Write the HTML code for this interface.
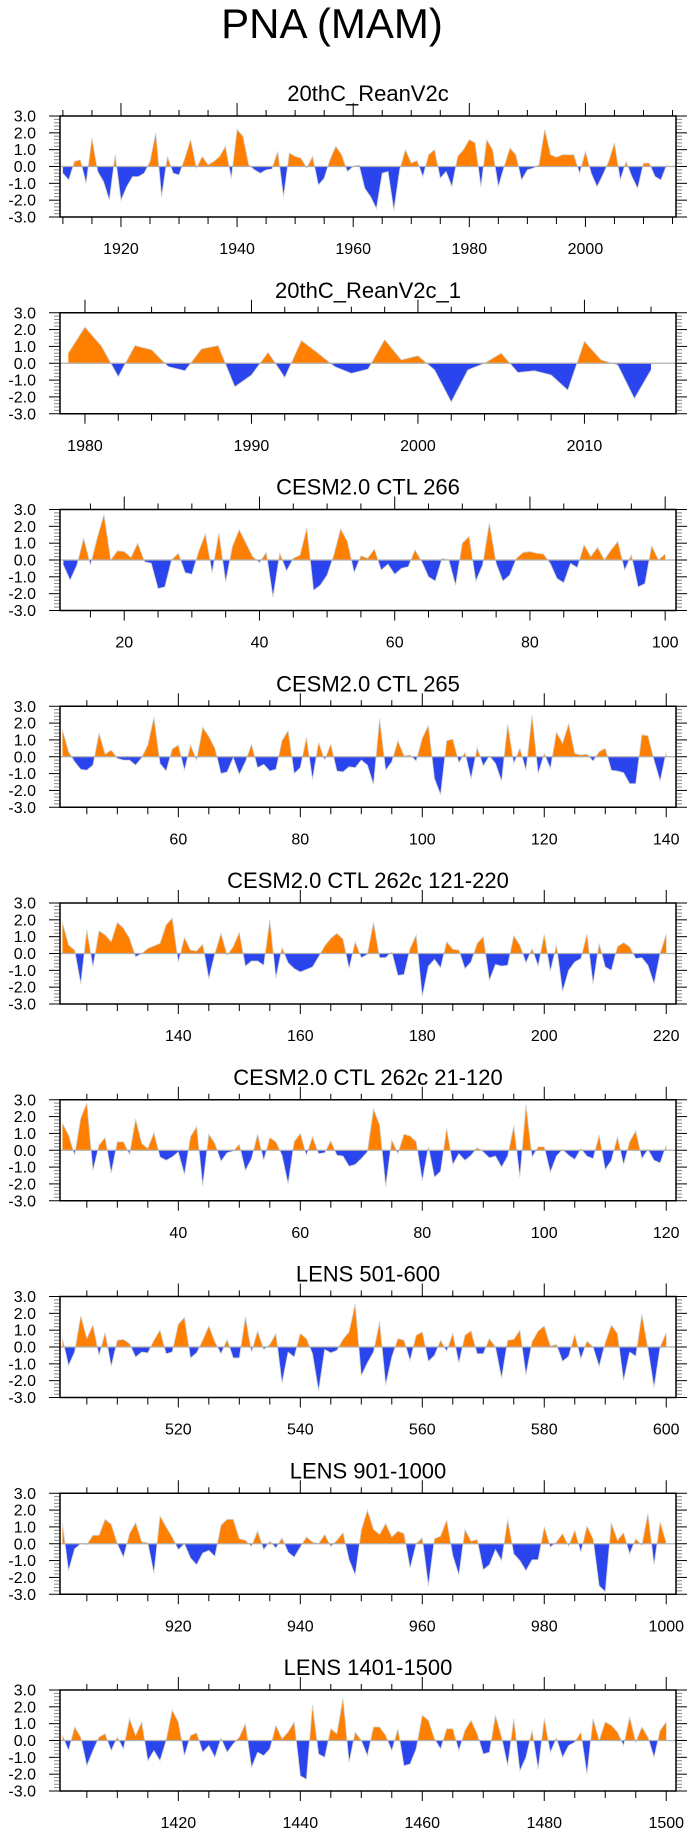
<!DOCTYPE html>
<html><head><meta charset="utf-8"><style>
html,body{margin:0;padding:0;background:#fff;}
svg{display:block;font-family:"Liberation Sans",Arial,sans-serif;}
</style></head><body>
<svg id="fig" width="690" height="1836" viewBox="0 0 690 1836" xmlns="http://www.w3.org/2000/svg">
<text x="332" y="38" font-size="42" text-anchor="middle">PNA (MAM)</text>
</svg>
<script>
const titles = ["20thC_ReanV2c","20thC_ReanV2c_1","CESM2.0 CTL 266","CESM2.0 CTL 265","CESM2.0 CTL 262c 121-220","CESM2.0 CTL 262c 21-120","LENS 501-600","LENS 901-1000","LENS 1401-1500"];
const startYears = [1910,1979,11,41,121,21,501,901,1401];
const xMins = [1909.5,1978.5,10.5,40.6,120.6,20.6,500.6,900.6,1400.6];
const xMaxs = [2015.6,2015.5,101.6,141.6,221.6,121.6,601.6,1001.6,1501.6];
const labelSteps = [20,10,20,20,20,20,20,20,20];
const minorSteps = [5,2,5,5,5,5,5,5,5];
const yTickLabels = ["3.0","2.0","1.0","0.0","-1.0","-2.0","-3.0"];

const s1 = [-0.4,-0.8,0.3,0.4,-1.0,1.7,-0.3,-0.9,-2.0,0.7,-2.0,-1.2,-0.6,-0.6,-0.4,0.3,2.0,-1.8,0.6,-0.4,-0.5,0.5,1.6,-0.1,0.6,0.1,0.3,0.6,1.2,-0.7,2.2,1.8,0.1,-0.2,-0.4,-0.2,-0.15,0.9,-1.8,0.8,0.6,0.5,-0.1,0.6,-1.1,-0.7,0.4,1.2,0.7,-0.3,0.0,0.1,-1.3,-1.8,-2.5,-0.4,-0.3,-2.6,-0.2,1.0,0.2,0.35,-0.6,0.7,1.0,-0.7,-0.3,-1.2,0.6,1.0,1.6,1.4,-1.2,1.6,1.0,-1.2,0.0,1.1,0.7,-0.8,-0.2,-0.1,0.1,2.2,0.7,0.55,0.7,0.7,0.7,-0.4,0.9,-0.4,-1.2,-0.5,0.3,1.4,-0.8,0.3,-0.6,-1.3,0.2,0.2,-0.6,-0.8,0.1];
const s2 = [0.6,2.15,1.0,-0.8,1.05,0.8,-0.2,-0.45,0.85,1.05,-1.4,-0.7,0.65,-0.85,1.35,0.6,-0.2,-0.6,-0.35,1.4,0.2,0.45,-0.4,-2.3,-0.4,0.0,0.6,-0.55,-0.45,-0.7,-1.6,1.3,0.2,-0.1,-2.1,-0.4];
const s3 = [-0.3,-1.2,-0.3,1.3,-0.3,1.3,2.7,0.0,0.55,0.5,0.15,1.0,-0.1,-0.2,-1.7,-1.6,0.0,0.4,-0.75,-0.85,0.5,1.55,-0.75,1.6,-1.3,0.8,1.8,1.0,0.2,-0.15,0.45,-2.2,0.4,-0.65,0.1,0.3,1.9,-1.8,-1.5,-0.9,0.3,1.85,1.1,-0.75,0.25,0.1,0.65,-0.6,-0.25,-0.85,-0.5,-0.4,0.6,-0.1,-1.0,-1.25,0.1,0.0,-1.5,1.0,1.4,-1.25,-0.3,2.2,-0.2,-1.25,-0.9,0.1,0.45,0.5,0.4,0.35,-0.2,-1.1,-1.35,-0.2,-0.45,0.9,0.2,0.75,0.0,0.6,1.1,-0.6,0.3,-1.6,-1.4,0.85,0.0,0.35];
const s4 = [1.6,0.3,-0.3,-0.75,-0.8,-0.5,1.4,0.15,0.4,-0.1,-0.2,-0.2,-0.5,-0.05,0.7,2.35,-0.4,-0.85,0.45,0.7,-0.8,0.7,-0.2,1.75,1.2,0.5,-1.0,-0.9,-0.05,-1.05,-0.3,0.75,-0.65,-0.45,-0.85,-0.75,0.95,1.55,-1.0,-0.65,1.15,-1.35,0.85,-0.2,0.75,-0.85,-0.9,-0.6,-0.65,-0.2,-0.5,-1.65,2.25,-0.8,-0.3,0.95,0.05,0.1,-0.25,1.1,1.85,-1.3,-2.25,0.95,1.05,-0.35,0.25,-1.3,0.55,-0.55,0.05,-0.4,-1.45,1.95,-0.4,0.5,-0.8,2.45,-1.0,0.2,-0.7,1.45,0.8,1.95,0.2,0.1,0.15,-0.25,0.3,0.5,-0.8,-0.85,-0.95,-1.6,-1.6,1.3,1.25,-0.2,-1.45,0.3];
const s5 = [1.85,0.5,0.2,-1.8,1.4,-0.8,1.35,1.1,0.7,1.85,1.5,0.9,-0.2,0.0,0.3,0.45,0.6,1.7,2.1,-0.5,0.95,0.2,0.15,0.55,-1.5,0.0,1.2,-0.1,0.4,1.25,-0.75,-0.45,-0.45,-0.7,2.0,-1.45,0.35,-0.55,-0.9,-1.1,-0.95,-0.8,-0.2,0.45,0.9,1.2,0.85,-0.9,0.7,-0.25,-0.05,1.85,-0.25,-0.25,0.1,-1.3,-1.25,0.3,1.1,-2.55,-0.75,-0.35,-0.85,0.7,0.25,0.2,-0.9,-0.5,0.6,1.0,-1.6,-0.65,-0.75,-0.7,1.05,0.5,-0.55,0.3,-0.75,1.15,-1.05,0.5,-2.25,-1.0,-0.5,-0.3,1.15,-1.8,0.6,-0.8,-1.0,0.4,0.65,0.4,-0.3,-0.25,-0.7,-1.8,0.0,1.15];
const s6 = [1.6,0.9,-0.3,1.9,2.8,-1.2,0.3,0.75,-1.35,0.5,0.5,-0.25,1.85,0.4,0.1,1.05,-0.4,-0.6,-0.4,-0.1,-1.45,0.8,1.4,-2.1,0.95,0.4,-0.65,-0.15,-0.05,0.35,-1.2,-0.5,0.95,-0.6,0.75,0.5,-0.3,-2.0,0.5,1.0,-0.3,0.8,-0.2,-0.15,0.55,-0.3,-0.35,-0.95,-0.85,-0.5,-0.1,2.45,1.5,-2.15,0.6,-0.2,0.95,0.85,0.5,-1.8,0.2,-1.6,-1.25,1.3,-0.85,-0.2,-0.6,-0.3,0.15,-0.1,-0.45,-0.35,-1.0,-0.35,1.45,-1.6,2.7,-0.4,0.2,0.2,-1.3,-0.35,0.05,-0.3,-0.55,0.1,-0.35,-0.5,0.9,-1.15,-0.6,0.8,-0.85,0.5,1.15,-0.5,0.05,-0.6,-0.75,0.3];
const s7 = [0.5,-1.1,-0.3,1.85,0.5,1.3,-0.5,0.85,-1.15,0.4,0.45,0.2,-0.6,-0.3,-0.35,0.4,1.0,-0.4,-0.3,1.35,1.75,-0.65,-0.35,0.4,1.25,0.3,-0.4,0.45,-0.65,-0.65,1.8,-0.3,0.95,-0.15,0.15,0.8,-2.15,-0.3,-0.6,0.8,0.5,-0.4,-2.6,-0.15,-0.35,-0.2,0.45,0.9,2.55,-1.7,-0.95,-0.3,1.5,-2.25,-0.6,0.5,0.4,-0.8,0.7,0.9,-0.85,-0.5,0.4,-0.25,0.8,-0.95,0.7,0.95,-0.4,-0.4,0.5,0.0,-1.85,0.4,0.45,1.0,-1.65,0.3,0.95,1.25,0.05,0.15,-0.85,-0.55,0.75,-0.7,0.35,0.0,-1.15,0.25,1.3,0.8,-2.0,-0.3,-0.55,1.95,-0.1,-2.4,0.0,0.85];
const s8 = [1.2,-1.6,-0.3,0.0,-0.05,0.5,0.5,1.45,1.15,0.0,-0.8,0.6,1.25,0.1,0.05,-1.75,1.65,1.0,0.4,-0.35,0.0,-0.85,-1.25,-0.55,-0.4,-0.75,1.1,1.45,1.45,0.3,0.2,-0.15,0.75,-0.35,0.15,-0.25,0.35,-0.5,-0.8,-0.2,0.4,0.1,0.0,0.55,-0.15,0.2,0.65,-0.95,-1.85,0.8,2.0,0.85,0.55,1.2,0.4,0.75,0.6,-1.45,0.0,0.35,-2.5,0.3,0.45,1.4,-0.7,-1.85,0.85,0.15,0.25,-1.55,-1.25,-0.35,-1.0,1.45,-0.6,-1.0,-1.6,-0.95,-0.95,1.0,-0.2,0.1,0.6,-0.15,0.8,-0.5,1.05,0.3,-2.5,-2.85,1.25,0.2,0.65,-0.6,0.3,-0.1,1.8,-1.25,1.3,0.05];
const s9 = [0.3,-0.6,0.8,0.2,-1.5,-0.6,0.2,0.4,-0.6,0.2,-0.5,1.3,0.3,1.1,-1.2,-0.6,-1.2,0.0,1.8,1.1,-0.9,0.3,0.45,-0.7,-0.3,-1.0,0.15,-0.7,-0.2,0.2,1.0,-1.6,-0.7,-0.9,-0.5,0.9,0.1,0.5,1.1,-2.1,-2.3,2.1,-0.8,-1.0,0.7,0.4,2.5,-1.3,0.5,0.0,-0.9,0.8,0.8,0.3,-0.6,0.7,-1.5,-1.4,-0.5,1.5,1.2,0.1,-0.5,0.7,0.7,-0.6,0.6,1.2,0.4,-0.8,-0.7,1.5,0.2,-1.5,1.3,-1.8,-1.0,0.6,-1.7,1.3,-0.7,0.15,-1.0,-0.3,-0.1,0.5,-2.0,1.3,0.0,1.1,0.9,0.5,-0.3,1.4,-0.1,0.8,0.2,-1.0,0.6,1.1];
const series = [s1,s2,s3,s4,s5,s6,s7,s8,s9];

const NS = "http://www.w3.org/2000/svg";
const svg = document.getElementById("fig");
const X0 = 60, X1 = 676, H = 101;
function mk(tag, attrs, parent){const e=document.createElementNS(NS,tag);for(const k in attrs)e.setAttribute(k,attrs[k]);(parent||svg).appendChild(e);return e;}

for (let p = 0; p < 9; p++) {
  const top = 116 + p * 196.75, bot = top + H;
  const xmin = xMins[p], xmax = xMaxs[p];
  const xs = v => X0 + (v - xmin) / (xmax - xmin) * (X1 - X0);
  const ys = v => top + (3 - v) / 6 * H;
  const g = mk("g", {});
  
  

  const t = mk("text", {x: (X0 + X1) / 2, y: top - 15, "font-size": 22, "text-anchor": "middle"}, g);
  t.textContent = titles[p];
  
  

  const cid = "clip" + p;
  const defs = mk("defs", {}, g);
  const c1 = mk("clipPath", {id: cid + "a"}, defs);
  mk("rect", {x: X0, y: top, width: X1 - X0, height: ys(0) - top}, c1);
  const c2 = mk("clipPath", {id: cid + "b"}, defs);
  mk("rect", {x: X0, y: ys(0), width: X1 - X0, height: bot - ys(0)}, c2);

  const vals = series[p], y0 = startYears[p];
  let pts = vals.map((v, i) => xs(y0 + i).toFixed(2) + "," + ys(v).toFixed(2));
  const poly = xs(y0).toFixed(2) + "," + ys(0) + " " + pts.join(" ") + " " + xs(y0 + vals.length - 1).toFixed(2) + "," + ys(0);
  const pos = mk("polygon", {points: poly, fill: "#ff8000", "clip-path": "url(#" + cid + "a)"}, g);
  
  
  const neg = mk("polygon", {points: poly, fill: "#2b45ee", "clip-path": "url(#" + cid + "b)"}, g);
  
  
  const ln = mk("polyline", {points: pts.join(" "), fill: "none", stroke: "#d0d0d0", "stroke-width": 0.8}, g);
  
  
  const zl = mk("line", {x1: X0, x2: X1, y1: ys(0), y2: ys(0), stroke: "#b0b0b0", "stroke-width": 1.2}, g);
  
  

  // x ticks
  const ms = minorSteps[p], ls = labelSteps[p];
  for (let v = Math.ceil(xmin / ms) * ms; v <= xmax; v += ms) {
    const x = xs(v), major = (v % ls === 0);
    mk("line", {x1: x, x2: x, y1: bot, y2: bot + (major ? 10 : 7), stroke: "#000", "stroke-width": 1}, g);
    mk("line", {x1: x, x2: x, y1: top, y2: top - (major ? 13 : 6), stroke: "#000", "stroke-width": 1}, g);
    if (major) {
      const tl = mk("text", {x: x, y: bot + 37, "font-size": 16, "text-anchor": "middle"}, g);
      tl.textContent = String(v);
      
      
    }
  }
  // y ticks
  for (let k = 0; k <= 30; k++) {
    const v = 3 - k * 0.2, y = ys(v), major = (k % 5 === 0);
    const len = major ? 11 : 6;
    mk("line", {x1: X0 - len, x2: X0, y1: y, y2: y, stroke: major ? "#000" : "#888", "stroke-width": 1}, g);
    mk("line", {x1: X1, x2: X1 + len, y1: y, y2: y, stroke: major ? "#000" : "#888", "stroke-width": 1}, g);
  }
  yTickLabels.forEach((lab, i) => {
    const yl = mk("text", {x: 36, y: ys(3 - i) + 5.5, "font-size": 16, "text-anchor": "end"}, g);
    yl.textContent = lab;
    
    
  });
  const fr = mk("rect", {x: X0, y: top, width: X1 - X0, height: H, fill: "none", stroke: "#000", "stroke-width": 1.5}, g);
  
  
}
</script>
</body></html>
